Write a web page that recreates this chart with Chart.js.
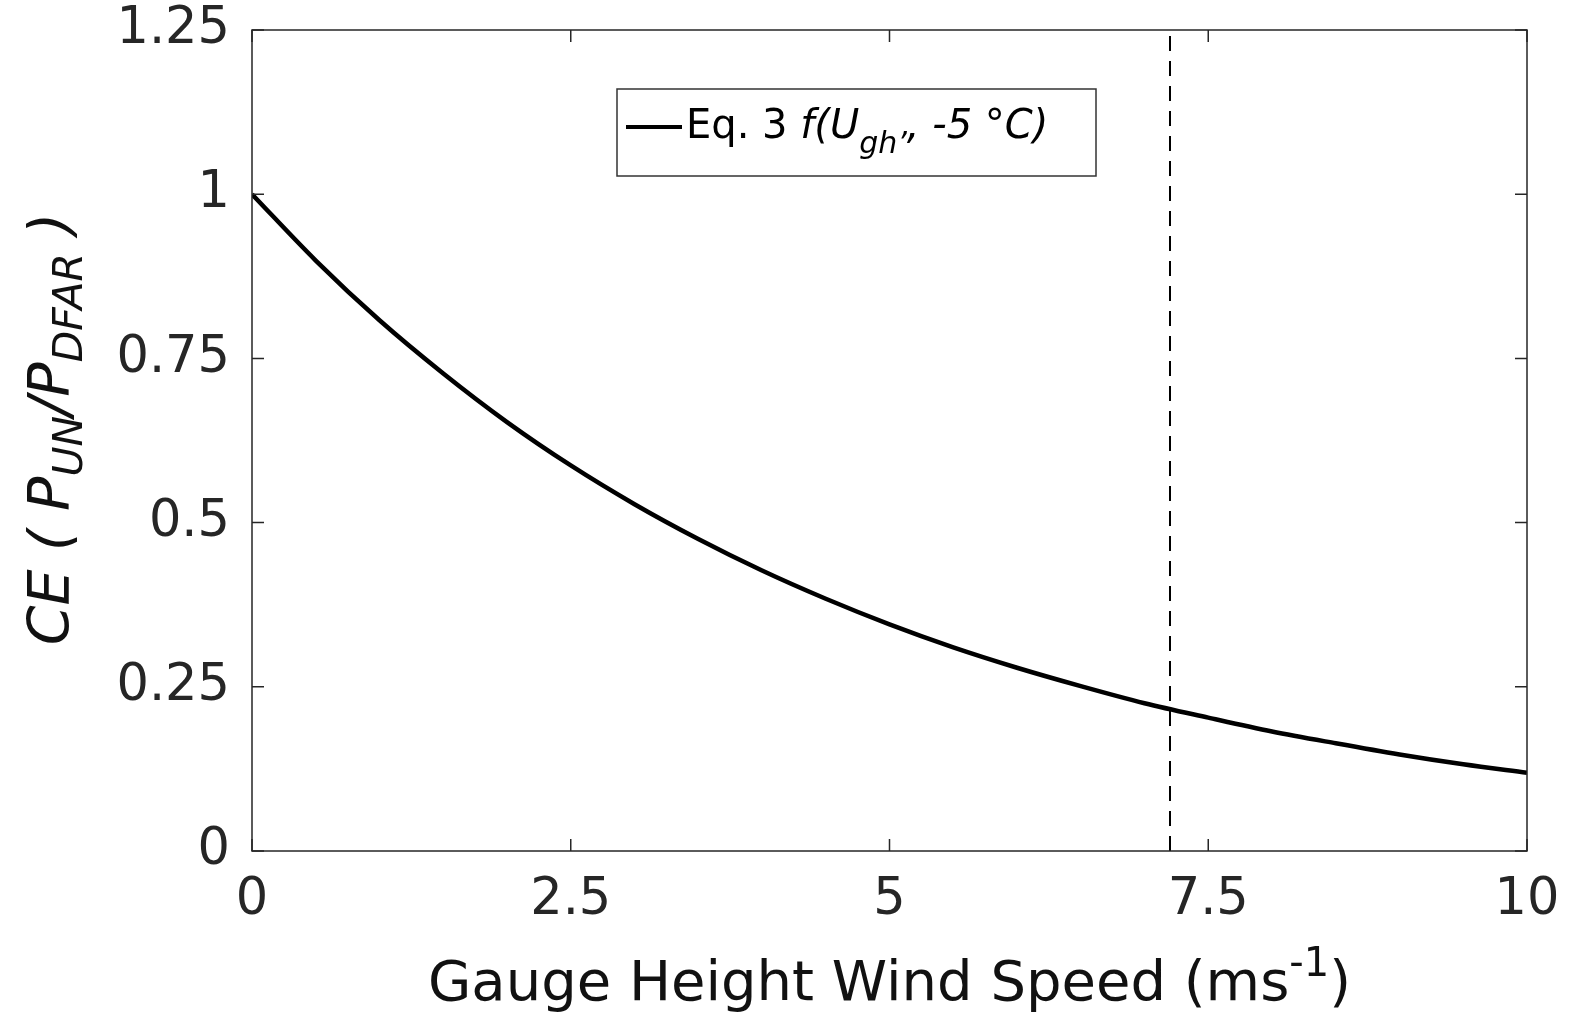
<!doctype html>
<html lang="en">
<head>
<meta charset="utf-8">
<title>Catch efficiency vs wind speed</title>
<script src="https://cdn.jsdelivr.net/npm/chart.js"></script>
<style>
  html, body { margin: 0; padding: 0; background: #fff; }
</style>
</head>
<body>
<canvas id="ce" width="1572" height="1013"></canvas>
<script>
// gauge height wind speed (m/s) and CE
const windSpeed = [0, 0.5, 1, 1.5, 2, 2.5, 3, 3.5, 4, 4.5, 5, 5.5, 6, 6.5, 7, 7.5, 8, 8.5, 9, 9.5, 10];
const catchEff = [1.00, 0.899, 0.808, 0.727, 0.653, 0.587, 0.528, 0.475, 0.427, 0.384, 0.345,
                  0.310, 0.279, 0.251, 0.225, 0.203, 0.182, 0.164, 0.147, 0.132, 0.119];
const thresholdSpeed = 7.2;
const yRange = [0, 1.25];
const xTickLabels = ['0', '2.5', '5', '7.5', '10'];
const yTickLabels = ['0', '0.25', '0.5', '0.75', '1', '1.25'];

const FONT = '"DejaVu Sans", sans-serif';
const AXIS_COLOR = '#262626';

// draw a list of text runs (italic / sub / superscript) in a row
function drawRuns(ctx, runs, x, y, align) {
    let total = 0;
    runs.forEach(r => {
        ctx.font = (r.italic ? 'italic ' : '') + r.size + 'px ' + FONT;
        r.w = ctx.measureText(r.t).width;
        total += r.w;
    });
    let cx = align === 'center' ? x - total / 2 : x;
    ctx.textBaseline = 'alphabetic';
    ctx.textAlign = 'left';
    runs.forEach(r => {
        ctx.font = (r.italic ? 'italic ' : '') + r.size + 'px ' + FONT;
        ctx.fillText(r.t, cx, y + (r.dy || 0));
        cx += r.w;
    });
}

const framePlugin = {
    id: 'frame',
    afterDatasetsDraw(chart) {
        const ctx = chart.ctx;
        const a = chart.chartArea;
        const xs = chart.scales.x, ys = chart.scales.y;
        ctx.save();
        ctx.strokeStyle = AXIS_COLOR;
        ctx.lineWidth = 1.5;
        ctx.strokeRect(a.left, a.top, a.right - a.left, a.bottom - a.top);
        const tl = 12;
        ctx.beginPath();
        xs.ticks.forEach(t => {
            const px = xs.getPixelForValue(t.value);
            ctx.moveTo(px, a.bottom); ctx.lineTo(px, a.bottom - tl);
            ctx.moveTo(px, a.top); ctx.lineTo(px, a.top + tl);
        });
        ys.ticks.forEach(t => {
            const py = ys.getPixelForValue(t.value);
            ctx.moveTo(a.left, py); ctx.lineTo(a.left + tl, py);
            ctx.moveTo(a.right, py); ctx.lineTo(a.right - tl, py);
        });
        ctx.stroke();

        // legend box
        ctx.fillStyle = '#fff';
        ctx.fillRect(617, 89, 479, 87);
        ctx.strokeStyle = '#333';
        ctx.lineWidth = 1.5;
        ctx.strokeRect(617, 89, 479, 87);
        ctx.strokeStyle = '#000';
        ctx.lineWidth = 4;
        ctx.beginPath();
        ctx.moveTo(626, 127); ctx.lineTo(682, 127);
        ctx.stroke();
        ctx.fillStyle = '#000';
        drawRuns(ctx, [
            { t: 'Eq. 3 ', size: 40 },
            { t: 'f(U', size: 40, italic: true },
            { t: 'gh\u2019', size: 30, italic: true, dy: 15 },
            { t: ', -5 \u00B0C)', size: 40, italic: true }
        ], 686, 138, 'left');

        // x title
        ctx.fillStyle = '#111';
        drawRuns(ctx, [
            { t: 'Gauge Height Wind Speed (ms', size: 56 },
            { t: '-1', size: 40, dy: -24 },
            { t: ')', size: 56 }
        ], (a.left + a.right) / 2, 1000, 'center');

        // y title (rotated)
        ctx.translate(69, 429);
        ctx.rotate(-Math.PI / 2);
        drawRuns(ctx, [
            { t: 'CE ( P', size: 57, italic: true },
            { t: 'UN', size: 41, italic: true, dy: 13 },
            { t: '/P', size: 57, italic: true },
            { t: 'DFAR', size: 41, italic: true, dy: 13 },
            { t: ' )', size: 57, italic: true }
        ], 0, 0, 'center');
        ctx.restore();
    }
};

const ctx = document.getElementById('ce').getContext('2d');
new Chart(ctx, {
    type: 'line',
    data: {
        datasets: [{
            label: 'Eq. 3',
            data: windSpeed.map((v, i) => ({ x: v, y: catchEff[i] })),
            borderColor: '#000',
            borderWidth: 4.5,
            pointRadius: 0,
            cubicInterpolationMode: 'monotone',
            fill: false
        }, {
            label: 'threshold',
            data: [{ x: thresholdSpeed, y: yRange[0] }, { x: thresholdSpeed, y: yRange[1] }],
            borderColor: '#000',
            borderWidth: 2,
            borderDash: [15, 10],
            pointRadius: 0,
            fill: false
        }]
    },
    options: {
        responsive: false,
        animation: false,
        devicePixelRatio: 1,
        layout: { padding: { top: 30, right: 45, left: 0, bottom: 0 } },
        plugins: { legend: { display: false }, tooltip: { enabled: false } },
        scales: {
            x: {
                type: 'linear',
                min: 0, max: 10,
                grid: { display: false },
                border: { display: false },
                afterFit: s => { s.height = 162; s.paddingLeft = 0; s.paddingRight = 0; },
                ticks: {
                    stepSize: 2.5,
                    color: AXIS_COLOR,
                    font: { family: FONT, size: 51 },
                    padding: 11,
                    maxRotation: 0,
                    callback: (v, i) => xTickLabels[i]
                }
            },
            y: {
                min: yRange[0], max: yRange[1],
                grid: { display: false },
                border: { display: false },
                afterFit: s => { s.width = 252; s.paddingTop = 0; s.paddingBottom = 0; },
                ticks: {
                    stepSize: 0.25,
                    color: AXIS_COLOR,
                    font: { family: FONT, size: 51 },
                    padding: 14,
                    callback: (v, i) => yTickLabels[i]
                }
            }
        }
    },
    plugins: [framePlugin]
});
</script>
</body>
</html>
